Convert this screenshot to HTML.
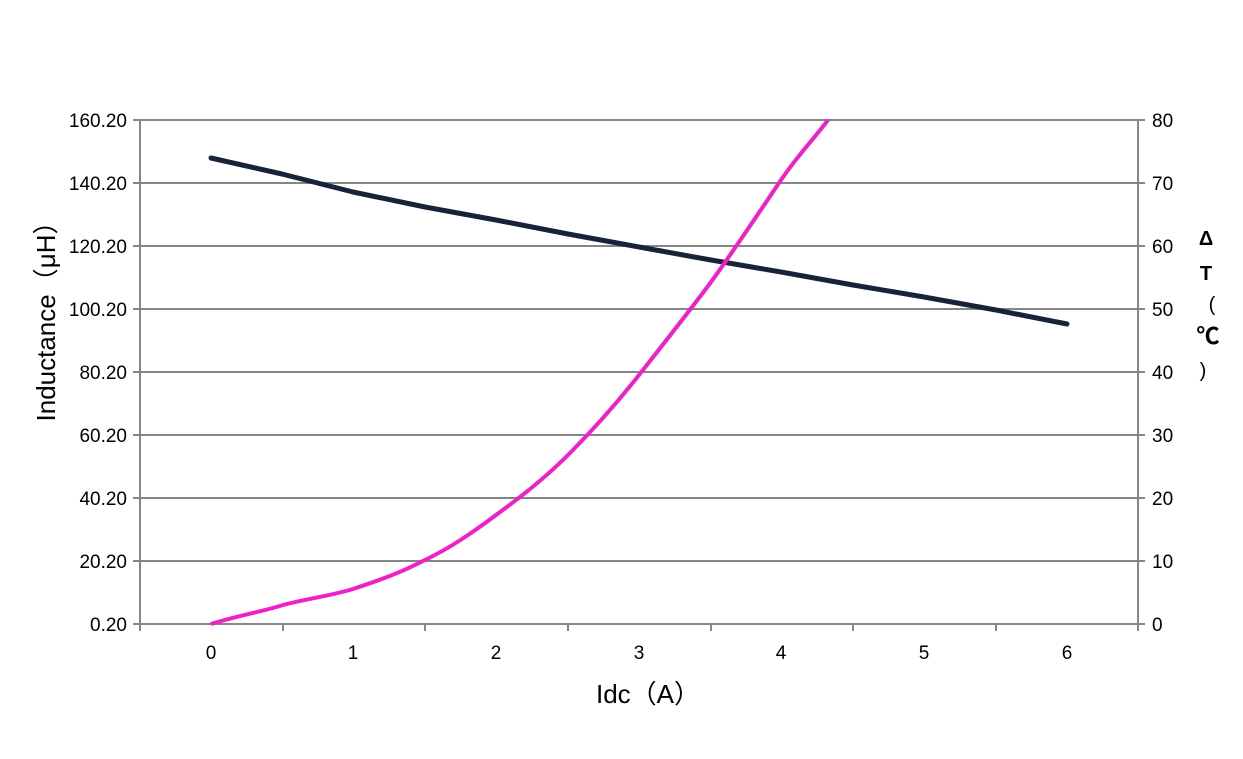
<!DOCTYPE html>
<html><head><meta charset="utf-8"><style>body{margin:0;background:#fff}svg{display:block}text{font-family:"Liberation Sans","Noto Sans CJK SC",sans-serif}</style></head>
<body>
<svg width="1243" height="759" viewBox="0 0 1243 759" xmlns="http://www.w3.org/2000/svg">
<g stroke="#868686" stroke-width="2" fill="none">
<path d="M133 120H1145M133 183H1145M133 246H1145M133 309H1145M133 372H1145M133 435H1145M133 498H1145M133 561H1145M133 624H1145"/>
<path d="M140 120V631M1138 120V631"/>
<path d="M283 624V631M425 624V631M568 624V631M711 624V631M853 624V631M996 624V631"/>
</g>
<g font-size="19" fill="#000" text-anchor="end">
<text x="127" y="127">160.20</text><text x="127" y="190">140.20</text><text x="127" y="253">120.20</text><text x="127" y="316">100.20</text><text x="127" y="379">80.20</text><text x="127" y="442">60.20</text><text x="127" y="505">40.20</text><text x="127" y="568">20.20</text><text x="127" y="631">0.20</text>
</g>
<g font-size="19" fill="#000">
<text x="1152" y="127">80</text><text x="1152" y="190">70</text><text x="1152" y="253">60</text><text x="1152" y="316">50</text><text x="1152" y="379">40</text><text x="1152" y="442">30</text><text x="1152" y="505">20</text><text x="1152" y="568">10</text><text x="1152" y="631">0</text>
</g>
<g font-size="19" fill="#000" text-anchor="middle">
<text x="211" y="659">0</text><text x="353" y="659">1</text><text x="496" y="659">2</text><text x="639" y="659">3</text><text x="781" y="659">4</text><text x="924" y="659">5</text><text x="1067" y="659">6</text>
</g>
<text x="648" y="703" font-size="26" text-anchor="middle">Idc（A）</text>
<text transform="translate(55,315) rotate(-90)" font-size="26" text-anchor="middle">Inductance（μH）</text>
<g font-size="20" font-weight="bold" text-anchor="middle">
<text x="1206" y="245">Δ</text><text x="1206" y="280">T</text><text x="1212" y="311" font-weight="normal">(</text><text x="1208" y="344" font-size="23">℃</text><text x="1203" y="377" font-weight="normal">)</text>
</g>
<polyline fill="none" stroke="#172339" stroke-width="5" stroke-linejoin="round" stroke-linecap="round" points="211,158 282,174 353,192 425,207 496,220 568,234 639,247 711,260 781,272 853,285 924,297 996,310 1067,324"/>
<path fill="none" stroke="#f020c8" stroke-width="4" d="M211,624 C240,615 265,611 283,605 C310,598 330,596 353,589 C380,580 400,573 425,560 C450,548 472,533 496,515 C522,496 545,478 568,455 C595,428 617,403 639,375 C665,342 688,313 711,282 C735,249 760,211 781,180 C798,155 813,140 828,120"/>
</svg>
</body></html>
